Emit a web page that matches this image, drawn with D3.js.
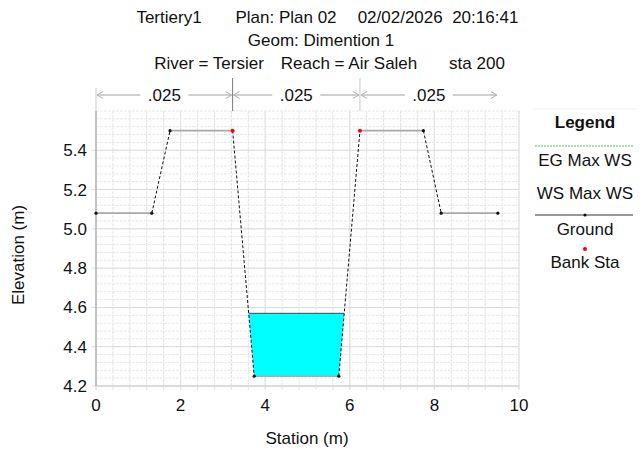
<!DOCTYPE html>
<html>
<head>
<meta charset="utf-8">
<script src="https://cdn.jsdelivr.net/npm/d3@7"></script>
<style>
  html, body { margin: 0; padding: 0; background: #fff; }
  svg { display: block; font-family: "Liberation Sans", Arial, sans-serif; }
</style>
</head>
<body>
<svg id="chart" width="641" height="449"></svg>
<script>
// Cross-section survey: station (m) and ground elevation (m)
const station   = [0, 1.32, 1.75, 3.23, 3.74, 5.74, 6.24, 7.74, 8.16, 9.5];
const elevation = [5.08, 5.08, 5.5, 5.5, 4.25, 4.25, 5.5, 5.5, 5.08, 5.08];
const bankStations = [3.23, 6.24];
const wsMaxElevation = 4.57;
// Manning's n regions
const nBreaks = [0, 3.23, 6.24, 9.5];
const nValues = [".025", ".025", ".025"];
// Axis ticks
const xTicks = [0, 2, 4, 6, 8, 10];
const yTicks = [4.2, 4.4, 4.6, 4.8, 5.0, 5.2, 5.4];
// Header text pieces, each with its centre x
const titleRow1 = [["Tertiery1", 169], ["Plan: Plan 02", 286], ["02/02/2026  20:16:41", 438]];
const titleRow2 = [["Geom: Dimention 1", 321]];
const titleRow3 = [["River = Tersier", 209], ["Reach = Air Saleh", 349], ["sta 200", 477]];
const legendItems = ["EG Max WS", "WS Max WS", "Ground", "Bank Sta"];

const FS = 17;
const svg = d3.select("#chart");
const plot = { left: 96, right: 519, top: 111, bottom: 386 };

const x = d3.scaleLinear().domain([0, 10]).range([plot.left, plot.right]);
const y = d3.scaleLinear().domain([4.2, 5.6]).range([plot.bottom, plot.top]);

// Titles
[titleRow1, titleRow2, titleRow3].forEach((row, r) => {
  svg.selectAll(null).data(row).join("text")
    .attr("x", d => d[1]).attr("y", 23 + r * 23)
    .attr("text-anchor", "middle").attr("font-size", FS).attr("fill", "#111")
    .style("white-space", "pre")
    .text(d => d[0]);
});

// Grid
const g = svg.append("g");
const vMinor = d3.range(0, 10.001, 0.4);
g.selectAll("line.vg").data(vMinor).join("line")
  .attr("x1", d => x(d)).attr("x2", d => x(d))
  .attr("y1", plot.top).attr("y2", plot.bottom + 4)
  .attr("stroke", "#e3e3e3").attr("stroke-width", 1)
  .attr("stroke-dasharray", "3,1");
g.selectAll("line.vmaj").data(xTicks).join("line")
  .attr("x1", d => x(d)).attr("x2", d => x(d))
  .attr("y1", plot.top).attr("y2", plot.bottom + 4)
  .attr("stroke", "#e0e0e0").attr("stroke-width", 1);
const hMinor = d3.range(4.2, 5.6001, 0.04);
g.selectAll("line.hg").data(hMinor).join("line")
  .attr("x1", plot.left).attr("x2", plot.right)
  .attr("y1", d => y(d)).attr("y2", d => y(d))
  .attr("stroke", "#e8e8e8").attr("stroke-width", 1)
  .attr("stroke-dasharray", "3,1");
g.selectAll("line.hmaj").data(yTicks).join("line")
  .attr("x1", plot.left - 4).attr("x2", plot.right)
  .attr("y1", d => y(d)).attr("y2", d => y(d))
  .attr("stroke", "#dcdcdc").attr("stroke-width", 1);

// Axis lines
svg.append("line").attr("x1", plot.left).attr("x2", plot.left)
  .attr("y1", plot.top).attr("y2", plot.bottom)
  .attr("stroke", "#9a9a9a").attr("stroke-width", 1);
svg.append("line").attr("x1", plot.left).attr("x2", plot.right)
  .attr("y1", plot.bottom).attr("y2", plot.bottom)
  .attr("stroke", "#cfcfcf").attr("stroke-width", 1);

// Tick labels
svg.selectAll("text.xt").data(xTicks).join("text")
  .attr("x", d => x(d)).attr("y", 411)
  .attr("text-anchor", "middle").attr("font-size", FS).attr("fill", "#111")
  .text(d => d3.format("d")(d));
svg.selectAll("text.yt").data(yTicks).join("text")
  .attr("x", 87).attr("y", d => y(d) + 6)
  .attr("text-anchor", "end").attr("font-size", FS).attr("fill", "#111")
  .text(d => d3.format(".1f")(d));

// Axis titles
svg.append("text").attr("x", 307).attr("y", 444)
  .attr("text-anchor", "middle").attr("font-size", FS).attr("fill", "#111")
  .text("Station (m)");
svg.append("text").attr("transform", "translate(24,255) rotate(-90)")
  .attr("text-anchor", "middle").attr("font-size", FS).attr("fill", "#111")
  .text("Elevation (m)");

// Manning's n header
const nTop = 78, nArrowY = 95;
nBreaks.slice(0, 3).forEach((b, i) => {
  svg.append("line").attr("x1", x(b)).attr("x2", x(b))
    .attr("y1", i === 0 ? 88 : nTop).attr("y2", plot.top)
    .attr("stroke", i === 1 ? "#777" : "#c8c8c8").attr("stroke-width", 1);
});
nValues.forEach((v, i) => {
  const x0 = x(nBreaks[i]), x1 = x(nBreaks[i + 1]);
  const cx = (x0 + x1) / 2;
  const half = 24;
  svg.append("line").attr("x1", x0 + 1).attr("x2", cx - half)
    .attr("y1", nArrowY).attr("y2", nArrowY).attr("stroke", "#a0a0a0");
  svg.append("line").attr("x1", cx + half).attr("x2", x1 - 1)
    .attr("y1", nArrowY).attr("y2", nArrowY).attr("stroke", "#a0a0a0");
  // open chevron heads
  svg.append("path")
    .attr("d", `M${x0 + 7},${nArrowY - 3.5} L${x0 + 1},${nArrowY} L${x0 + 7},${nArrowY + 3.5}`)
    .attr("fill", "none").attr("stroke", "#b0b0b0");
  svg.append("path")
    .attr("d", `M${x1 - 7},${nArrowY - 3.5} L${x1 - 1},${nArrowY} L${x1 - 7},${nArrowY + 3.5}`)
    .attr("fill", "none").attr("stroke", "#b0b0b0");
  svg.append("text").attr("x", cx).attr("y", nArrowY + 6)
    .attr("text-anchor", "middle").attr("font-size", FS).attr("fill", "#111")
    .text(v);
});

// Water polygon below max WS, clipped to the ground profile
const pts = station.map((s, i) => [s, elevation[i]]);
const wet = [];
for (let i = 0; i < pts.length - 1; i++) {
  const [s0, e0] = pts[i], [s1, e1] = pts[i + 1];
  if (e0 < wsMaxElevation) wet.push([s0, e0]);
  if ((e0 - wsMaxElevation) * (e1 - wsMaxElevation) < 0) {
    const t = (wsMaxElevation - e0) / (e1 - e0);
    wet.push([s0 + t * (s1 - s0), wsMaxElevation]);
  }
}
svg.append("path")
  .attr("d", d3.line().x(d => x(d[0])).y(d => y(d[1]))(wet) + "Z")
  .attr("fill", "#00ffff").attr("stroke", "none");
const wsEnds = wet.filter(d => d[1] === wsMaxElevation);
svg.append("line")
  .attr("x1", x(wsEnds[0][0])).attr("x2", x(wsEnds[wsEnds.length - 1][0]))
  .attr("y1", y(wsMaxElevation)).attr("y2", y(wsMaxElevation))
  .attr("stroke", "#2d4f5a").attr("stroke-width", 1);

// Ground profile segments
const segs = d3.pairs(pts);
svg.selectAll("line.gs").data(segs).join("line")
  .attr("x1", d => x(d[0][0])).attr("y1", d => y(d[0][1]))
  .attr("x2", d => x(d[1][0])).attr("y2", d => y(d[1][1]))
  .attr("stroke", d => d[0][1] === d[1][1] ? "#a8a8a8" : "#111")
  .attr("stroke-width", d => d[0][1] === d[1][1] ? 1.6 : 1)
  .attr("stroke-dasharray", d => d[0][1] === d[1][1] ? null : "3,2");
svg.selectAll("circle.gp").data(pts.filter(p => !bankStations.includes(p[0]))).join("circle")
  .attr("cx", d => x(d[0])).attr("cy", d => y(d[1])).attr("r", 1.6)
  .attr("fill", "#111");
svg.selectAll("circle.bk").data(pts.filter(p => bankStations.includes(p[0]))).join("circle")
  .attr("cx", d => x(d[0])).attr("cy", d => y(d[1])).attr("r", 2)
  .attr("fill", "#ff0000");

// Legend
const lg = svg.append("g");
lg.append("line").attr("x1", 533).attr("x2", 636).attr("y1", 109).attr("y2", 109)
  .attr("stroke", "#f0f0f0");
lg.append("text").attr("x", 585).attr("y", 128).attr("text-anchor", "middle")
  .attr("font-size", FS).attr("font-weight", "bold").attr("fill", "#111").text("Legend");
lg.append("line").attr("x1", 535).attr("x2", 633).attr("y1", 146).attr("y2", 146)
  .attr("stroke", "#5cb85c").attr("stroke-width", 1).attr("stroke-dasharray", "2,1");
lg.append("line").attr("x1", 535).attr("x2", 633).attr("y1", 215).attr("y2", 215)
  .attr("stroke", "#333").attr("stroke-width", 1);
lg.append("circle").attr("cx", 585).attr("cy", 215).attr("r", 1.6).attr("fill", "#111");
lg.append("circle").attr("cx", 585).attr("cy", 249).attr("r", 2).attr("fill", "#ff0000");
const legendY = [166, 199, 235, 268];
lg.selectAll("text.li").data(legendItems).join("text")
  .attr("x", 585).attr("y", (d, i) => legendY[i]).attr("text-anchor", "middle")
  .attr("font-size", FS).attr("fill", "#111").text(d => d);
</script>
</body>
</html>
